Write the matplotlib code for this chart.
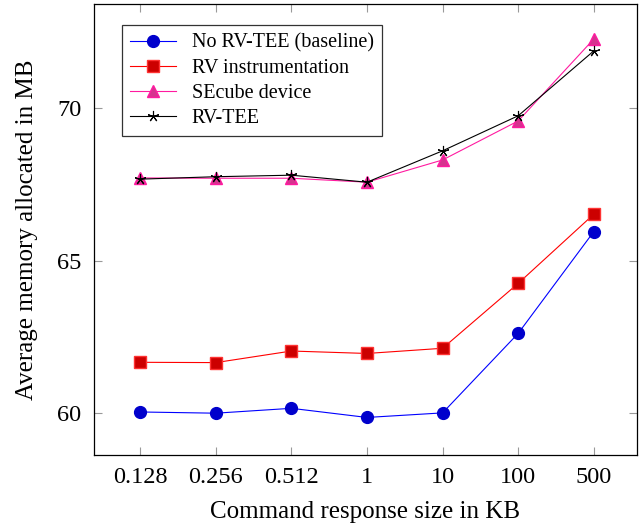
import matplotlib
matplotlib.use("Agg")
import matplotlib.pyplot as plt

categories = ["0.128", "0.256", "0.512", "1", "10", "100", "500"]
baseline = [60.03, 59.99, 60.15, 59.85, 60.00, 62.61, 65.95]
rv_instr = [61.66, 61.65, 62.03, 61.95, 62.12, 64.25, 66.52]
secube = [67.71, 67.70, 67.70, 67.57, 68.30, 69.58, 72.27]
rv_tee = [67.67, 67.75, 67.80, 67.57, 68.60, 69.75, 71.88]
yticks = [60, 65, 70]

plt.rcParams['font.family'] = ['Liberation Serif', 'DejaVu Serif']
plt.rcParams['mathtext.fontset'] = 'stix'

fig = plt.figure(figsize=(6.44, 5.29), dpi=100)
ax = fig.add_axes([0.146, 0.140, 0.843, 0.852])
x = list(range(len(categories)))

ax.plot(x, baseline, color='#0000ff', lw=0.8, marker='o', ms=8.5,
        mfc='#0000cc', mec='#0000cc', label='No RV-TEE (baseline)')
ax.plot(x, rv_instr, color='#ff0000', lw=0.8, marker='s', ms=8.5,
        mfc='#cc0000', mec='#ff3333', label='RV instrumentation')
ax.plot(x, secube, color='#ff1aa0', lw=0.8, marker='^', ms=8.5,
        mfc='#d6338f', mec='#ff1aa0', label='SEcube device')
ax.plot(x, rv_tee, color='black', lw=0.8, marker=(5, 2, 0), ms=8,
        mew=0.8, label='RV-TEE')

ax.set_xlim(-0.61, 6.57)
ax.set_ylim(58.62, 73.41)
ax.set_xticks(x)
ax.set_xticklabels(categories)
ax.set_yticks(yticks)
ax.tick_params(direction='in', length=6, color='#999999', width=0.8,
               top=True, right=True, labelsize=17.5, pad=9)
for s in ax.spines.values():
    s.set_linewidth(0.9)
ax.set_xlabel('Command response size in KB', fontsize=18, labelpad=9)
ax.set_ylabel('Average memory allocated in MB', fontsize=18, labelpad=14)

leg = ax.legend(loc='upper left', bbox_to_anchor=(0.0516, 0.953), fontsize=14.5,
                borderaxespad=0.0,
                frameon=True, fancybox=False, edgecolor='black',
                handlelength=2.3, borderpad=0.4, labelspacing=0.3,
                handletextpad=0.75)
leg.get_frame().set_linewidth(0.9)

fig.savefig('out.png', dpi=100)
